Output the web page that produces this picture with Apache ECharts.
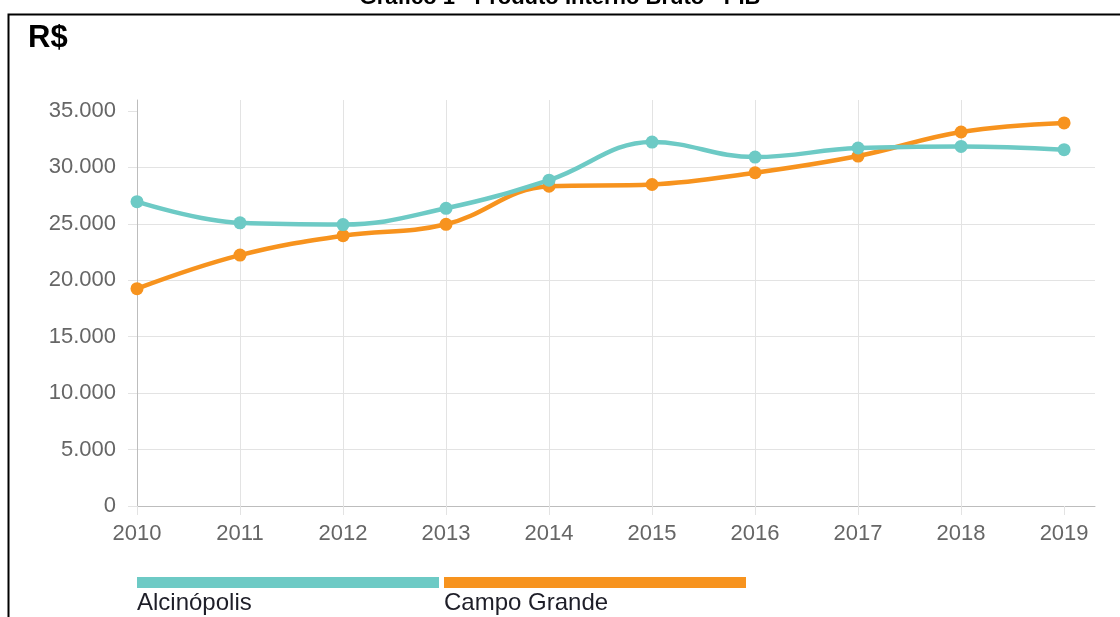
<!DOCTYPE html>
<html>
<head>
<meta charset="utf-8">
<script src="https://cdn.jsdelivr.net/npm/echarts@6/dist/echarts.min.js"></script>
<style>
  html, body { margin: 0; padding: 0; background: #fff; }
  #chart { width: 1120px; height: 617px; }
</style>
</head>
<body>
<div id="chart"></div>
<script>
// ---- data ----
var years = [2010, 2011, 2012, 2013, 2014, 2015, 2016, 2017, 2018, 2019];
var alcinopolis = [26970, 25090, 24940, 26380, 28870, 32250, 30920, 31720, 31860, 31570];
var campoGrande = [19260, 22230, 23950, 24960, 28330, 28490, 29530, 31010, 33140, 33940];
var seriesNames = ['Alcinópolis', 'Campo Grande'];
var seriesColors = ['#6dcac5', '#f7931e'];
var yTicks = [0, 5000, 10000, 15000, 20000, 25000, 30000, 35000];
var titleText = 'Gráfico 1 - Produto Interno Bruto - PIB';
var unitText = 'R$';

function fmt(v) {
  return String(v).replace(/\B(?=(\d{3})+(?!\d))/g, '.');
}
function pairs(vals) {
  return vals.map(function (v, i) { return [years[i], v]; });
}

var chart = echarts.init(document.getElementById('chart'), null, { renderer: 'canvas' });
var FONT = '"Liberation Sans", Arial, Helvetica, sans-serif';
var gridColor = '#e3e3e3';
var zeroColor = '#bdbdbd';

var legendGraphics = [];
seriesNames.forEach(function (name, i) {
  var x0 = 137 + i * 307;
  legendGraphics.push({
    type: 'rect', left: x0, top: 577,
    shape: { width: 302, height: 11 },
    style: { fill: seriesColors[i] }, silent: true
  });
  legendGraphics.push({
    type: 'text', x: x0, y: 603,
    style: { text: name, fill: '#1e1e28', font: '24px ' + FONT, verticalAlign: 'middle', align: 'left' },
    silent: true
  });
});

var option = {
  animation: false,
  backgroundColor: '#ffffff',
  grid: { left: 137, right: 25, top: 100, bottom: 111, containLabel: false },
  xAxis: {
    type: 'value',
    min: years[0],
    max: years[years.length - 1] + 0.3,
    interval: 1,
    axisLine: { show: true, lineStyle: { color: zeroColor, width: 1 } },
    axisTick: { show: true, length: 9, lineStyle: { color: gridColor }, customValues: years },
    axisLabel: {
      customValues: years,
      formatter: function (v) { return String(v); },
      color: '#666', fontSize: 22, fontFamily: FONT, margin: 17
    },
    splitLine: { show: true, showMinLine: false, showMaxLine: false, lineStyle: { color: gridColor, width: 1 } }
  },
  yAxis: {
    type: 'value',
    min: 0,
    max: 35975,
    interval: 5000,
    axisLine: { show: true, lineStyle: { color: zeroColor, width: 1 } },
    axisTick: { show: true, length: 9, lineStyle: { color: gridColor }, customValues: yTicks },
    axisLabel: {
      customValues: yTicks,
      formatter: function (v) { return fmt(v); },
      color: '#666', fontSize: 22, fontFamily: FONT, margin: 21
    },
    splitLine: { show: true, showMinLine: false, showMaxLine: false, lineStyle: { color: gridColor, width: 1 } }
  },
  series: [
    {
      name: seriesNames[1], type: 'line', data: pairs(campoGrande),
      smooth: 0.4, symbol: 'circle', symbolSize: 13, z: 2,
      lineStyle: { width: 4.5, color: seriesColors[1] },
      itemStyle: { color: seriesColors[1] }
    },
    {
      name: seriesNames[0], type: 'line', data: pairs(alcinopolis),
      smooth: 0.4, symbol: 'circle', symbolSize: 13, z: 3,
      lineStyle: { width: 4.5, color: seriesColors[0] },
      itemStyle: { color: seriesColors[0] }
    }
  ],
  graphic: [
    {
      type: 'rect', left: 6, top: 12,
      shape: { x: 0, y: 0, width: 1130, height: 640 },
      style: { fill: 'none', stroke: '#000', lineWidth: 2 }, silent: true
    },
    {
      type: 'text', x: 560, y: -2,
      style: { text: titleText, fill: '#000', font: 'bold 22px ' + FONT, align: 'center', verticalAlign: 'middle' },
      silent: true
    },
    {
      type: 'text', x: 28, y: 38,
      style: { text: unitText, fill: '#000', font: 'bold 31px ' + FONT, align: 'left', verticalAlign: 'middle' },
      silent: true
    }
  ].concat(legendGraphics)
};
chart.setOption(option);
</script>
</body>
</html>
